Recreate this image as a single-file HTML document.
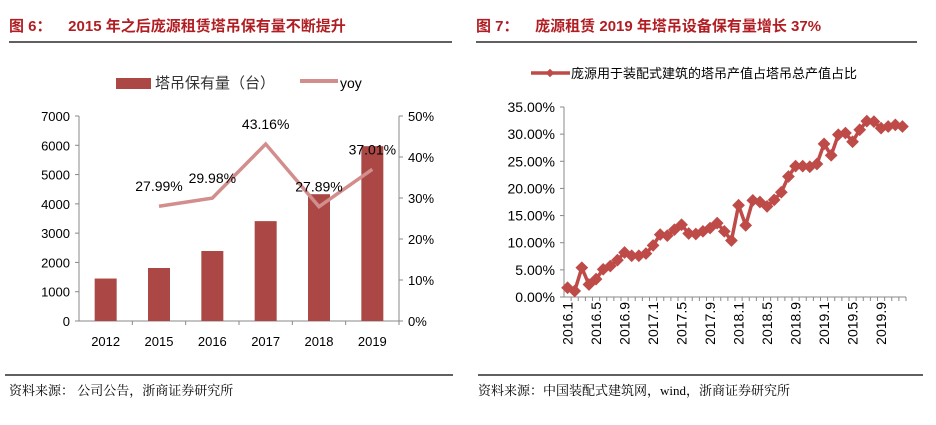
<!DOCTYPE html>
<html><head><meta charset="utf-8"><style>
body{margin:0;width:936px;height:420px;background:#fff;overflow:hidden;font-family:"Liberation Sans","Noto Sans CJK SC",sans-serif}
svg text{font-family:"Liberation Sans","Noto Sans CJK SC",sans-serif}
svg text.serif{font-family:"Liberation Serif","Noto Serif CJK SC",serif}
</style></head><body>
<svg id="c" width="936" height="420">
<text x="9" y="31" font-size="15" font-weight="bold" fill="#b01e23" xml:space="preserve">图 6：    2015 年之后庞源租赁塔吊保有量不断提升</text>
<line x1="9" y1="42" x2="452" y2="42" stroke="#000" stroke-width="1.2"/>
<text x="476" y="31" font-size="15" font-weight="bold" fill="#b01e23" xml:space="preserve">图 7：    庞源租赁 2019 年塔吊设备保有量增长 37%</text>
<line x1="476" y1="42" x2="917" y2="42" stroke="#000" stroke-width="1.2"/>
<line x1="5" y1="375" x2="453" y2="375" stroke="#000" stroke-width="1.2"/>
<line x1="478" y1="375" x2="923" y2="375" stroke="#000" stroke-width="1.2"/>
<text class="serif" x="9" y="395" font-size="13" fill="#000">资料来源： 公司公告，浙商证券研究所</text>
<text class="serif" x="478" y="395" font-size="13" fill="#000">资料来源：中国装配式建筑网，wind，浙商证券研究所</text>
<rect x="116" y="78" width="35" height="11" fill="#ab4845"/>
<text x="155" y="88" font-size="15" fill="#333">塔吊保有量（台）</text>
<line x1="300" y1="81" x2="338" y2="81" stroke="#d28e8c" stroke-width="4"/>
<text x="340" y="88" font-size="14" fill="#000">yoy</text>
<line x1="531" y1="73" x2="570" y2="73" stroke="#be4b48" stroke-width="3.5"/>
<rect x="547" y="70" width="6" height="6" fill="#be4b48" transform="rotate(45 550 73)"/>
<text x="571" y="78" font-size="13" fill="#000">庞源用于装配式建筑的塔吊产值占塔吊总产值占比</text>
</svg>
<script>
const years=['2012','2015','2016','2017','2018','2019'];
const units=[1450,1810,2390,3410,4330,5970];
const yoyVals=[null,27.99,29.98,43.16,27.89,37.01];
const leftTicks=[0,1000,2000,3000,4000,5000,6000,7000];
const rightTicks=[0,10,20,30,40,50];
const months=['2016.1','2016.2','2016.3','2016.4','2016.5','2016.6','2016.7','2016.8','2016.9','2016.10','2016.11','2016.12','2017.1','2017.2','2017.3','2017.4','2017.5','2017.6','2017.7','2017.8','2017.9','2017.10','2017.11','2017.12','2018.1','2018.2','2018.3','2018.4','2018.5','2018.6','2018.7','2018.8','2018.9','2018.10','2018.11','2018.12','2019.1','2019.2','2019.3','2019.4','2019.5','2019.6','2019.7','2019.8','2019.9','2019.10','2019.11','2019.12'];
const share=[1.7,1.1,5.4,2.3,3.3,5.1,5.7,6.8,8.2,7.6,7.6,8.0,9.5,11.5,11.3,12.4,13.3,11.7,11.6,12.1,12.7,13.6,12.1,10.4,16.9,13.2,17.8,17.5,16.7,17.9,19.3,22.2,24.1,24.1,24.0,24.5,28.2,26.1,29.9,30.2,28.6,30.8,32.4,32.3,31.1,31.4,31.7,31.4];
const shareTicks=[0,5,10,15,20,25,30,35];
const svg=document.getElementById('c');const NS='http://www.w3.org/2000/svg';
function mk(t,a,txt){const e=document.createElementNS(NS,t);for(const k in a)e.setAttribute(k,a[k]);if(txt!=null)e.textContent=txt;svg.appendChild(e);return e;}
const L={x0:79,x1:399,y0:321,y1:116};
const ly=v=>L.y0-(v/7000)*(L.y0-L.y1);
const ry=v=>L.y0-(v/50)*(L.y0-L.y1);
const cw=(L.x1-L.x0)/years.length;
const cx=i=>L.x0+cw*(i+0.5);
let e;
e=mk('line',{x1:L.x0,y1:L.y1,x2:L.x0,y2:L.y0,stroke:'#888'});

e=mk('line',{x1:L.x1,y1:L.y1,x2:L.x1,y2:L.y0,stroke:'#888'});

e=mk('line',{x1:L.x0,y1:L.y0,x2:L.x1,y2:L.y0,stroke:'#888'});

leftTicks.forEach(v=>{mk('line',{x1:L.x0-4,x2:L.x0,y1:ly(v),y2:ly(v),stroke:'#888'});
e=mk('text',{x:L.x0-9,y:ly(v)+5,'font-size':13,'text-anchor':'end'},String(v));
});
rightTicks.forEach(v=>{mk('line',{x1:L.x1,x2:L.x1+4,y1:ry(v),y2:ry(v),stroke:'#888'});
e=mk('text',{x:L.x1+9,y:ry(v)+5,'font-size':13},v+'%');
});
years.forEach((y,i)=>{mk('line',{x1:L.x0+cw*(i+1),x2:L.x0+cw*(i+1),y1:L.y0,y2:L.y0+4,stroke:'#888'});
e=mk('rect',{x:cx(i)-11,y:ly(units[i]),width:22,height:L.y0-ly(units[i]),fill:'#ab4845'});

e=mk('text',{x:cx(i),y:346,'font-size':13,'text-anchor':'middle'},y);
});
let pts=[];yoyVals.forEach((v,i)=>{if(v!=null)pts.push(cx(i)+','+ry(v));});
e=mk('polyline',{points:pts.join(' '),fill:'none',stroke:'#d28e8c','stroke-width':3.5});

yoyVals.forEach((v,i)=>{if(v==null)return;
e=mk('text',{x:cx(i),y:ry(v)-15,'font-size':14,'text-anchor':'middle'},v.toFixed(2)+'%');
});
const R={x0:564,x1:906,y0:297,y1:107};
const sy=v=>R.y0-(v/35)*(R.y0-R.y1);
const mw=(R.x1-R.x0)/months.length;
const mx=i=>R.x0+mw*(i+0.5);
e=mk('line',{x1:R.x0,y1:R.y1,x2:R.x0,y2:R.y0,stroke:'#888'});

e=mk('line',{x1:R.x0,y1:R.y0,x2:R.x1,y2:R.y0,stroke:'#888'});

shareTicks.forEach(v=>{mk('line',{x1:R.x0-4,x2:R.x0,y1:sy(v),y2:sy(v),stroke:'#888'});
e=mk('text',{x:R.x0-9,y:sy(v)+5,'font-size':14,'text-anchor':'end'},v.toFixed(2)+'%');
});
months.forEach((m,i)=>{mk('line',{x1:R.x0+mw*(i+1),x2:R.x0+mw*(i+1),y1:R.y0,y2:R.y0+4,stroke:'#888'});
if(i%4===0){const x=mx(i)+5;e=mk('text',{x:x,y:302,'font-size':14,'text-anchor':'end',transform:'rotate(-90 '+x+' 302)'},m);
}});
e=mk('polyline',{points:share.map((v,i)=>mx(i)+','+sy(v)).join(' '),fill:'none',stroke:'#be4b48','stroke-width':3.5});

share.forEach((v,i)=>{e=mk('rect',{x:mx(i)-4.5,y:sy(v)-4.5,width:9,height:9,fill:'#be4b48',transform:'rotate(45 '+mx(i)+' '+sy(v)+')'});
});
</script>
</body></html>
